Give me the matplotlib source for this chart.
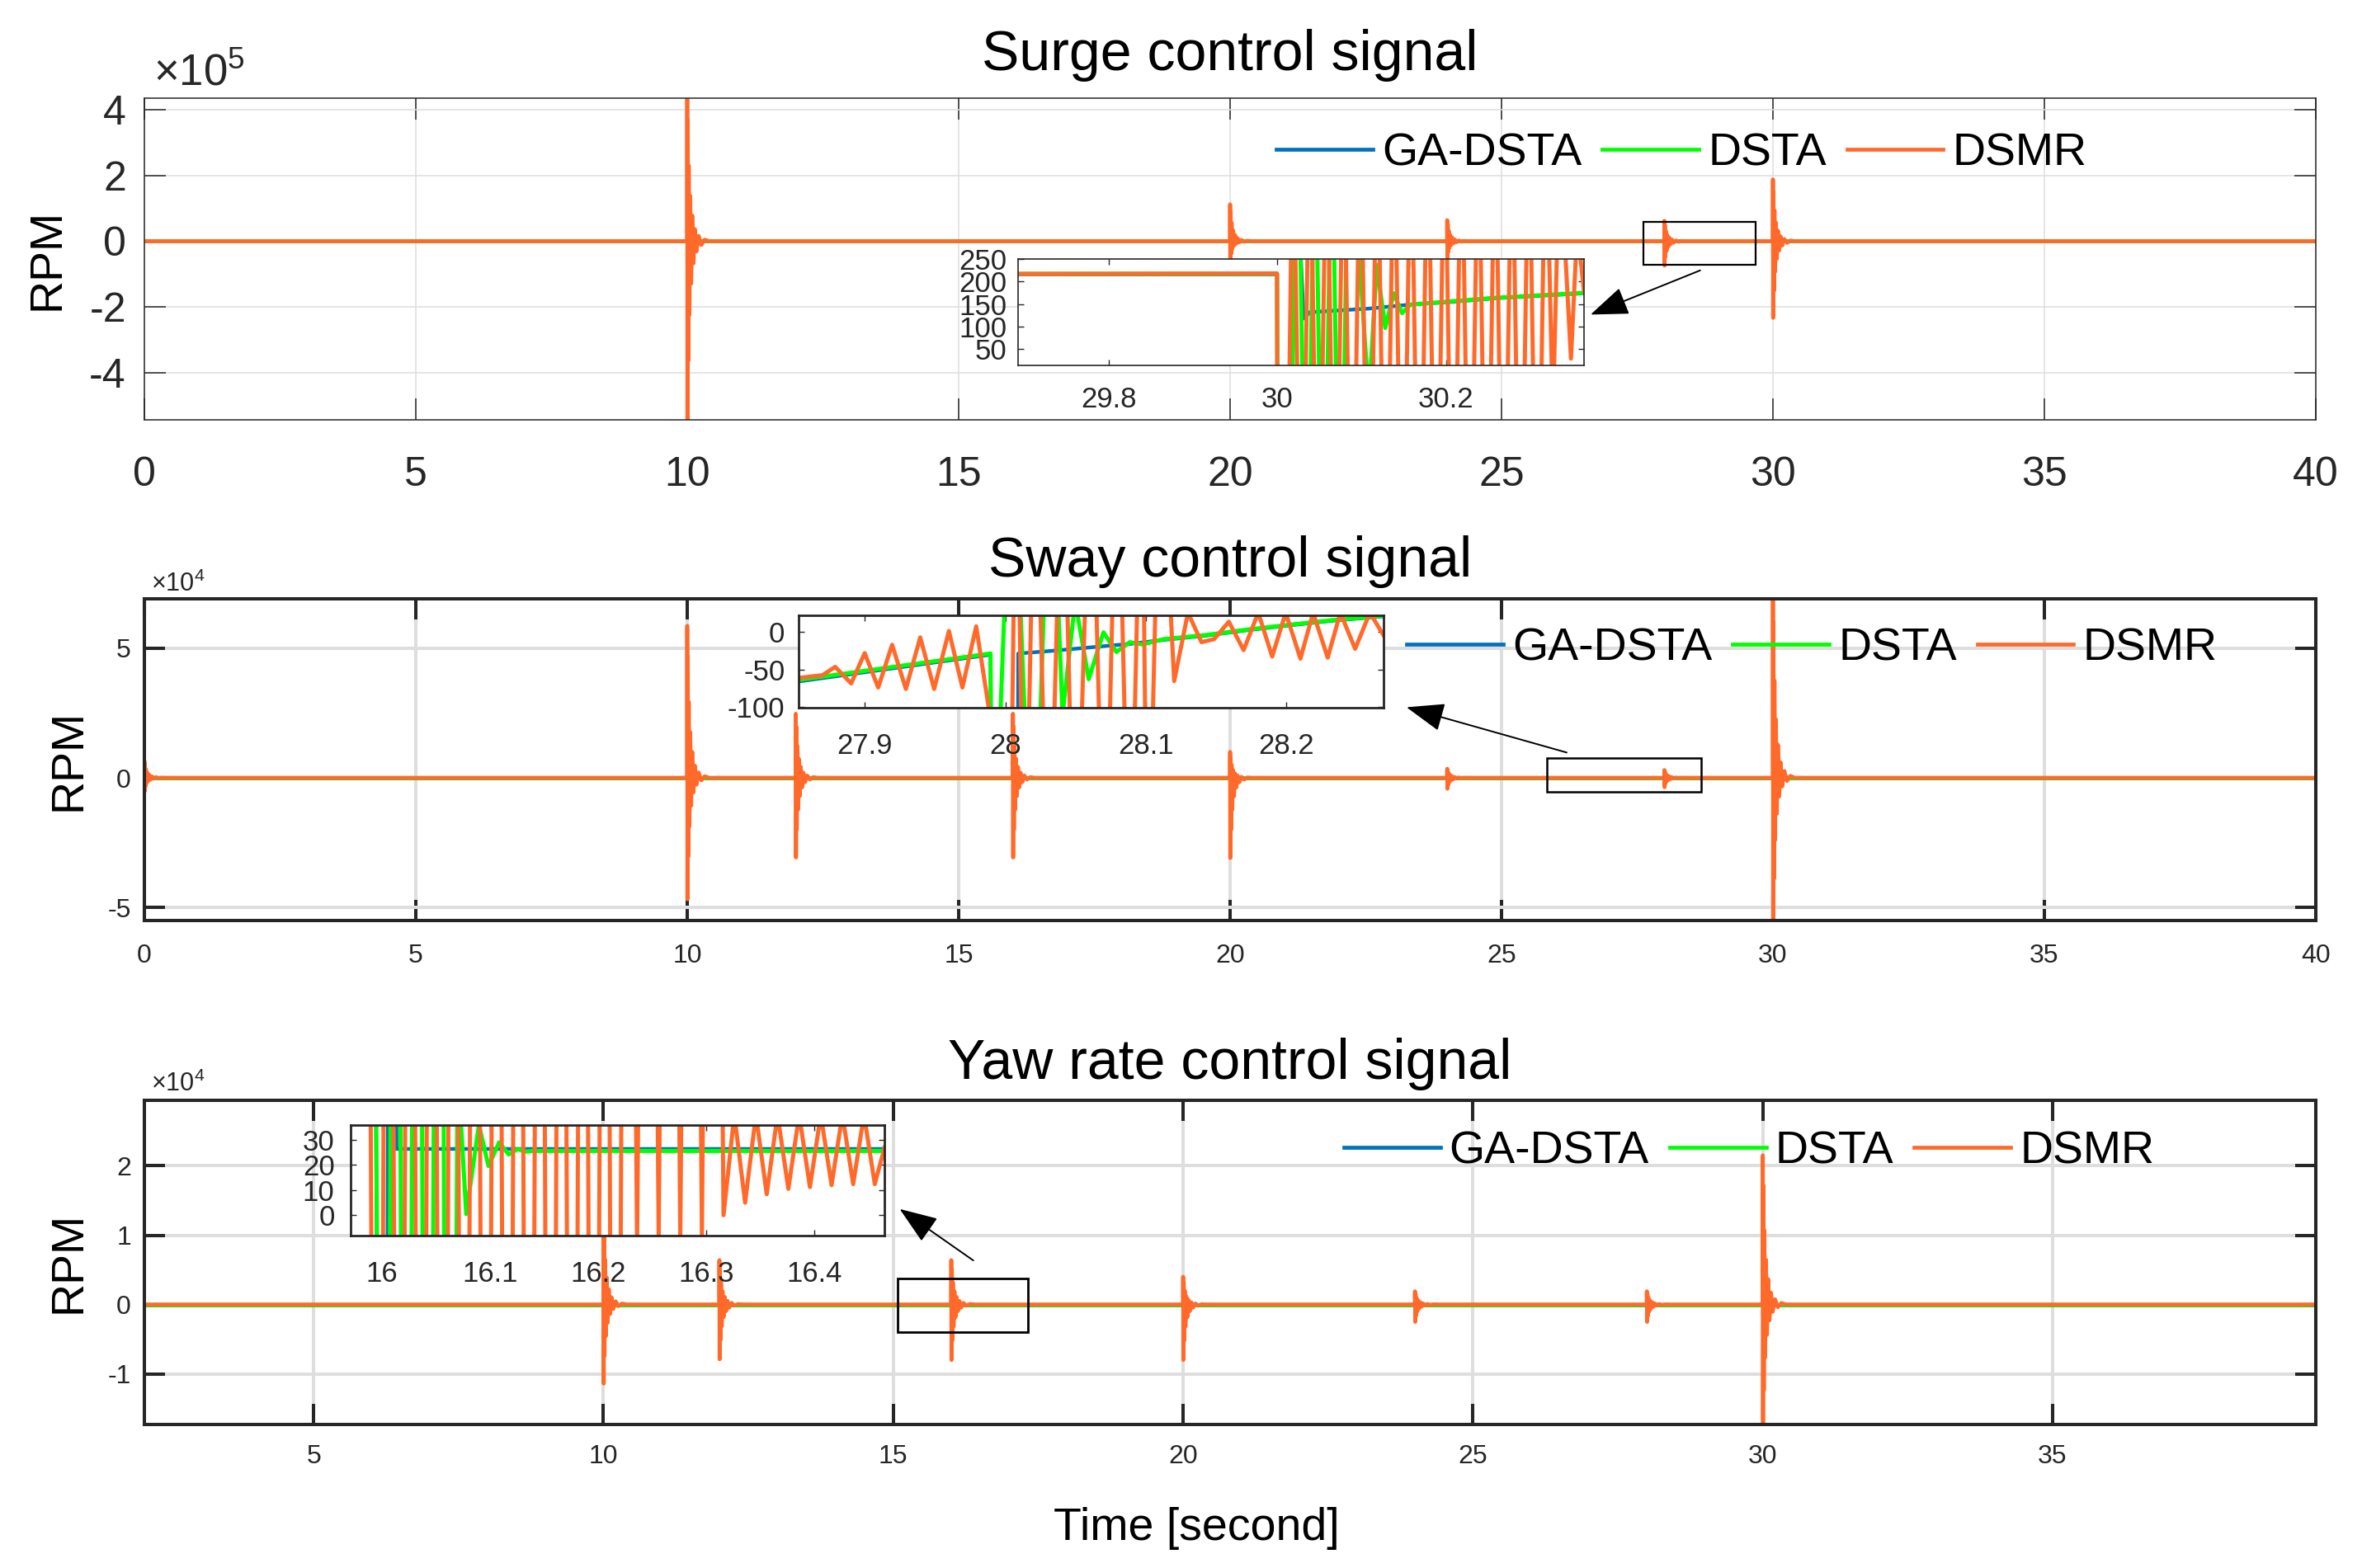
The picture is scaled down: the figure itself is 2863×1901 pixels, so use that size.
import numpy as np
import matplotlib
matplotlib.use('Agg')
import matplotlib.pyplot as plt
from matplotlib.patches import Rectangle

plt.rcParams['font.family'] = ['Liberation Sans', 'DejaVu Sans']
plt.rcParams['mathtext.fontset'] = 'custom'
plt.rcParams['mathtext.rm'] = 'Liberation Sans'
plt.rcParams['axes.unicode_minus'] = False

BLUE = '#0072BD'
GREEN = '#00FF00'
ORANGE = '#FF6A2B'
GRID = '#DEDEDE'
DARK = '#262626'

series_names = ['GA-DSTA', 'DSTA', 'DSMR']
titles = ['Surge control signal', 'Sway control signal', 'Yaw rate control signal']

# GA-DSTA / DSTA stay near zero on the full scale (hidden under DSMR)
baseline_t = [0.0, 40.0]
baseline_v = [0.0, 0.0]

# shape of one DSMR burst: time after the event [s] and envelope fraction
spike_dt = [0.0, 0.004, 0.01, 0.018, 0.028, 0.04, 0.055, 0.072, 0.092,
            0.115, 0.14, 0.17, 0.21, 0.26, 0.32, 0.4]
spike_env = [1.0, 1.0, 0.8, 0.65, 0.5, 0.4, 0.3, 0.23, 0.17,
             0.12, 0.08, 0.055, 0.035, 0.02, 0.01, 0.0]

# DSMR bursts on the full plots [RPM]
surge_spike_t = [10, 20, 24, 28, 30]
surge_spike_up = [4.6e5, 1.12e5, 0.64e5, 0.62e5, 1.88e5]
surge_spike_dn = [-5.6e5, -0.6e5, -0.5e5, -0.74e5, -2.33e5]

sway_spike_t = [0, 10, 12, 16, 20, 24, 28, 30]
sway_spike_up = [0.66e4, 5.86e4, 2.47e4, 2.47e4, 1.0e4, 0.35e4, 0.3e4, 7.5e4]
sway_spike_dn = [-0.53e4, -4.68e4, -3.07e4, -3.07e4, -3.09e4, -0.42e4, -0.36e4, -6.0e4]

yaw_spike_t = [10, 12, 16, 20, 24, 28, 30]
yaw_spike_up = [1.3e4, 0.64e4, 0.64e4, 0.4e4, 0.19e4, 0.19e4, 2.15e4]
yaw_spike_dn = [-1.14e4, -0.79e4, -0.8e4, -0.8e4, -0.25e4, -0.25e4, -1.9e4]

# zoomed views
surge_zoom_ga_t = [29.692, 29.9995, 30.0005, 30.014, 30.0195, 30.031, 30.0385,
                   30.1085, 30.1585, 30.2085, 30.2585, 30.3085, 30.364]
surge_zoom_ga_v = [216, 216, -400, -400, 600, 118, 132, 140, 149, 155, 163, 168, 174]
surge_zoom_dsta_t = [29.692, 29.9995, 30.0005, 30.0135, 30.0245, 30.0345, 30.0445,
                     30.0545, 30.0645, 30.0745, 30.0845, 30.1085, 30.118, 30.128,
                     30.138, 30.148, 30.158, 30.2585, 30.364]
surge_zoom_dsta_v = [217, 217, -400, -400, 600, -600, 600, -600, 600, -600, 600,
                     -60, 237, 97, 174, 130, 149, 164, 175]
surge_zoom_dsmr_t = [29.692, 29.9995, 30.0, 30.0115,
                     30.0185, 30.0285, 30.0385, 30.0485, 30.0585, 30.0685, 30.0785,
                     30.0885, 30.0985, 30.1085, 30.1185, 30.1285, 30.1385, 30.1485,
                     30.1585, 30.1685, 30.1785, 30.1885, 30.1985, 30.2085, 30.2185,
                     30.2285, 30.2385, 30.2485, 30.2585, 30.2685, 30.2785, 30.2885,
                     30.2985, 30.3085, 30.3185, 30.327, 30.335, 30.3485, 30.356, 30.364]
surge_zoom_dsmr_v = [217, 218, -400, -400,
                     600, -600, 600, -600, 600, -600, 600, -600, 600, -600,
                     600, -600, 600, -600, 600, -600, 600, -600, 600, -600,
                     600, -600, 600, -600, 600, -600, 600, -600, 600,
                     -600, 600, -100, 500, 29, 320, 177]

sway_zoom_ga_t = [27.853, 27.9895, 27.9905, 28.0085, 28.0092, 28.03, 28.06, 28.09,
                  28.1126, 28.142, 28.172, 28.202, 28.232, 28.2689]
sway_zoom_ga_v = [-66, -30.5, -400, -400, -29, -26, -21, -16, -11, -5.5, 1.8, 8.2, 14.2, 20.2]
sway_zoom_dsta_t = [27.853, 27.9895, 27.9905, 28.005, 28.02, 28.032, 28.0407, 28.0497,
                    28.0593, 28.0698, 28.079, 28.0886, 28.0976, 28.1126, 28.142,
                    28.172, 28.202, 28.232, 28.2689]
sway_zoom_dsta_v = [-64, -29, -400, 300, -400, 300, -110, 40, -63, -1, -27, -14, -17,
                    -10, -4.7, 2.6, 9, 15, 21]
sway_zoom_dsmr_t = [27.853, 27.87, 27.879, 27.8904, 27.9, 27.9096, 27.9195, 27.9293,
                    27.9395, 27.9494, 27.9599, 27.9695, 27.9793, 27.9898, 28.003,
                    28.0078, 28.0138, 28.0213, 28.0308, 28.0407, 28.0497, 28.0611,
                    28.0707, 28.0796, 28.0886, 28.097, 28.1012, 28.1102,
                    28.1201, 28.1299, 28.1395, 28.1485, 28.159, 28.1695, 28.1799,
                    28.1898, 28.1994, 28.2099, 28.2189, 28.2293, 28.2383, 28.2488,
                    28.2593, 28.2689]
sway_zoom_dsmr_v = [-61.3, -57.7, -46.7, -68.6, -28.5, -74, -17.5, -75.9, -7.7, -75.9,
                    0.7, -74, 6.9, -120, -400,
                    300, -400, 300, -400, 300, -400, 300, -400, 300, -400, 300, -400, 300,
                    -65.5, 25, -14, -10, 13, -24.5, 25, -33, 25, -35.8, 25, -34.5, 25,
                    -22.8, 25, -4.7]

yaw_zoom_ga_t = [15.9708, 15.988, 16.002, 16.0085, 16.0135, 16.4651]
yaw_zoom_ga_v = [500, 500, -500, 500, 26.4, 26.4]
yaw_zoom_dsta_t = [15.9708, 15.988, 16.0025, 16.0125, 16.0225, 16.0325, 16.0425,
                   16.0525, 16.0625, 16.07, 16.078, 16.0897, 16.0986, 16.1084,
                   16.1173, 16.1259, 16.1318, 16.14, 16.4651]
yaw_zoom_dsta_v = [500, 500, -500, 500, -500, 500, -500, 500, -500, 60, 0.5, 36,
                   19.6, 29, 24.2, 26.4, 25.3, 25.6, 25.6]
yaw_zoom_dsmr_t = [15.9708, 15.984,
                   15.9961, 16.0061, 16.0161, 16.0261, 16.0361, 16.0461, 16.0561,
                   16.0661, 16.0761, 16.0861, 16.0961, 16.1061, 16.1161, 16.1261,
                   16.1361, 16.1461, 16.1561, 16.1661, 16.1761, 16.1861, 16.1961,
                   16.2061, 16.2161, 16.2261, 16.2361, 16.2461, 16.2561, 16.2661,
                   16.2761, 16.2861, 16.2961, 16.3061, 16.3161, 16.3261, 16.3361,
                   16.3461, 16.3561, 16.3661, 16.3761, 16.3861, 16.3961, 16.4061,
                   16.4161, 16.4261, 16.4361, 16.4461, 16.4561, 16.4651]
yaw_zoom_dsmr_v = [500, 500,
                   -500, 500, -500, 500, -500, 500, -500, 500, -500, 500, -500, 500,
                   -500, 500, -500, 500, -500, 500, -500, 500, -500, 500, -500, 500,
                   -12, 500, -9, 500, -8.5, 500, -7.5, 500,
                   0, 40, 5, 40, 8.4, 40, 10.5, 40, 11.2, 40, 12, 40, 12.4, 40, 12.4,
                   26.9]


def build_spikes(spike_t, spike_up, spike_dn, t_end=40.0):
    t = [0.0]
    v = [0.0]
    for t0, up, dn in zip(spike_t, spike_up, spike_dn):
        if t0 > 0:
            t.append(t0 - 0.002)
            v.append(0.0)
        for i, (dt, env) in enumerate(zip(spike_dt, spike_env)):
            t.append(t0 + dt)
            v.append((up if i % 2 == 0 else dn) * env)
    t.append(t_end)
    v.append(0.0)
    return np.array(t), np.array(v)


def style_axes(ax, spine_w, tick_len, tick_w, label_size, pad_x, pad_y, grid_w=None):
    for s in ax.spines.values():
        s.set_linewidth(spine_w)
        s.set_color(DARK)
    ax.tick_params(which='both', direction='in', top=True, right=True,
                   length=tick_len, width=tick_w, colors=DARK, labelsize=label_size)
    ax.tick_params(axis='x', pad=pad_x)
    ax.tick_params(axis='y', pad=pad_y)
    if grid_w is not None:
        ax.grid(True, color=GRID, linewidth=grid_w)
        ax.set_axisbelow(True)


def draw_main(ax, t, v, lw):
    h1, = ax.plot(baseline_t, baseline_v, color=BLUE, lw=lw)
    h2, = ax.plot(baseline_t, baseline_v, color=GREEN, lw=lw)
    h3, = ax.plot(t, v, color=ORANGE, lw=lw)
    return [h1, h2, h3]


def draw_zoom(fig, rect, data, xlim, ylim, xticks, xlabels, yticks, spine_w, pad_x, pad_y):
    ax = fig.add_axes(rect)
    ax.set_facecolor('white')
    ga_t, ga_v, ds_t, ds_v, sm_t, sm_v = data
    ax.plot(ga_t, ga_v, color=BLUE, lw=1.6)
    ax.plot(ds_t, ds_v, color=GREEN, lw=1.8)
    ax.plot(sm_t, sm_v, color=ORANGE, lw=1.8)
    ax.set_xlim(xlim)
    ax.set_ylim(ylim)
    ax.set_xticks(xticks)
    ax.set_xticklabels(xlabels)
    ax.set_yticks(yticks)
    ax.set_yticklabels([str(y) for y in yticks])
    style_axes(ax, spine_w, 2.5, 0.5, 12.5, pad_x, pad_y)
    return ax


def add_arrow(ax, start, end):
    ax.annotate('', xy=end, xytext=start,
                arrowprops=dict(arrowstyle='-|>,head_length=0.8,head_width=0.3',
                                mutation_scale=18, color='k', lw=0.7, shrinkA=0, shrinkB=0),
                annotation_clip=False)


def main():
    W, H = 2863, 1901
    fig = plt.figure(figsize=(W / 200, H / 200), dpi=200)

    left = 175 / W
    width = (2807 - 175) / W
    ax1 = fig.add_axes([left, 1 - 509 / H, width, 390 / H])
    ax2 = fig.add_axes([left, 1 - 1116 / H, width, 390 / H])
    ax3 = fig.add_axes([left, 1 - 1727 / H, width, 393 / H])

    # surge
    t, v = build_spikes(surge_spike_t, surge_spike_up, surge_spike_dn)
    handles = draw_main(ax1, t, v, 1.7)
    ax1.set_xlim(0, 40)
    ax1.set_ylim(-5.43e5, 4.35e5)
    ax1.set_xticks(range(0, 41, 5))
    ax1.set_yticks([-4e5, -2e5, 0, 2e5, 4e5])
    ax1.set_yticklabels(['-4', '-2', '0', '2', '4'])
    style_axes(ax1, 0.55, 9.4, 0.55, 18, 16, 8, grid_w=0.55)
    ax1.set_title(titles[0], fontsize=24.5, pad=12.2)
    ax1.text(0.004, 1.041, '×10$^{5}$', transform=ax1.transAxes, fontsize=19,
             ha='left', va='baseline', color=DARK)
    ax1.legend(handles, series_names, ncol=3, frameon=False, loc='center',
               bbox_to_anchor=(0.708, 0.826), fontsize=20, handlelength=2.1,
               handletextpad=0.2, columnspacing=0.45)
    ax1.add_patch(Rectangle((27.61, -0.72e5), 2.07, 1.314e5, fill=False, ec='k', lw=0.8, zorder=5))
    add_arrow(ax1, (28.66, -0.886e5), (26.64, -2.23e5))

    # sway
    t, v = build_spikes(sway_spike_t, sway_spike_up, sway_spike_dn)
    handles = draw_main(ax2, t, v, 1.7)
    ax2.set_xlim(0, 40)
    ax2.set_ylim(-5.5e4, 6.9e4)
    ax2.set_xticks(range(0, 41, 5))
    ax2.set_yticks([-5e4, 0, 5e4])
    ax2.set_yticklabels(['-5', '0', '5'])
    style_axes(ax2, 1.45, 9, 1.45, 11.5, 10.2, 5.8, grid_w=1.45)
    ax2.set_title(titles[1], fontsize=24.5, pad=9.7)
    ax2.text(0.003, 1.023, '×10$^{4}$', transform=ax2.transAxes, fontsize=11,
             ha='left', va='baseline', color=DARK)
    ax2.legend(handles, series_names, ncol=3, frameon=False, loc='center',
               bbox_to_anchor=(0.768, 0.844), fontsize=20, handlelength=2.1,
               handletextpad=0.2, columnspacing=0.45)
    ax2.add_patch(Rectangle((25.84, -0.55e4), 2.84, 1.303e4, fill=False, ec='k', lw=0.9, zorder=5))
    add_arrow(ax2, (26.2, 0.976e4), (23.25, 2.72e4))

    # yaw rate
    t, v = build_spikes(yaw_spike_t, yaw_spike_up, yaw_spike_dn)
    handles = draw_main(ax3, t, v, 1.7)
    ax3.set_xlim(2.08, 39.54)
    ax3.set_ylim(-1.73e4, 2.945e4)
    ax3.set_xticks(range(5, 36, 5))
    ax3.set_yticks([-1e4, 0, 1e4, 2e4])
    ax3.set_yticklabels(['-1', '0', '1', '2'])
    style_axes(ax3, 1.45, 9, 1.45, 11.5, 8.8, 5.8, grid_w=1.45)
    ax3.set_title(titles[2], fontsize=24.5, pad=9.4)
    ax3.text(0.003, 1.028, '×10$^{4}$', transform=ax3.transAxes, fontsize=11,
             ha='left', va='baseline', color=DARK)
    ax3.legend(handles, series_names, ncol=3, frameon=False, loc='center',
               bbox_to_anchor=(0.739, 0.84), fontsize=20, handlelength=2.1,
               handletextpad=0.2, columnspacing=0.45)
    ax3.add_patch(Rectangle((15.07, -0.40e4), 2.26, 0.775e4, fill=False, ec='k', lw=1.0, zorder=5))
    add_arrow(ax3, (16.38, 0.636e4), (15.11, 1.378e4))

    # zoomed insets
    draw_zoom(fig, [1234 / W, 1 - 443 / H, 686 / W, 129 / H],
              (surge_zoom_ga_t, surge_zoom_ga_v, surge_zoom_dsta_t, surge_zoom_dsta_v,
               surge_zoom_dsmr_t, surge_zoom_dsmr_v),
              (29.692, 30.364), (14, 250), [29.8, 30.0, 30.2], ['29.8', '30', '30.2'],
              [50, 100, 150, 200, 250], 0.6, 9, 5)
    draw_zoom(fig, [968 / W, 1 - 858 / H, 709 / W, 112 / H],
              (sway_zoom_ga_t, sway_zoom_ga_v, sway_zoom_dsta_t, sway_zoom_dsta_v,
               sway_zoom_dsmr_t, sway_zoom_dsmr_v),
              (27.853, 28.269), (-100.7, 21.5), [27.9, 28.0, 28.1, 28.2],
              ['27.9', '28', '28.1', '28.2'], [-100, -50, 0], 1.0, 10.8, 6)
    draw_zoom(fig, [425 / W, 1 - 1498 / H, 647 / W, 134 / H],
              (yaw_zoom_ga_t, yaw_zoom_ga_v, yaw_zoom_dsta_t, yaw_zoom_dsta_v,
               yaw_zoom_dsmr_t, yaw_zoom_dsmr_v),
              (15.971, 16.465), (-8.1, 35.9), [16.0, 16.1, 16.2, 16.3, 16.4],
              ['16', '16.1', '16.2', '16.3', '16.4'], [0, 10, 20, 30], 1.0, 10.8, 7)

    fig.text(57 / W, 1 - 314 / H, 'RPM', rotation=90, ha='center', va='center', fontsize=20)
    fig.text(83 / W, 1 - 921 / H, 'RPM', rotation=90, ha='center', va='center', fontsize=20)
    fig.text(83 / W, 1 - 1530 / H, 'RPM', rotation=90, ha='center', va='center', fontsize=20)
    fig.text(0.5065, 0.025, 'Time [second]', ha='center', va='center', fontsize=20)

    fig.savefig('out.png', dpi=200, facecolor='white')
    plt.close(fig)


if __name__ == '__main__':
    main()
